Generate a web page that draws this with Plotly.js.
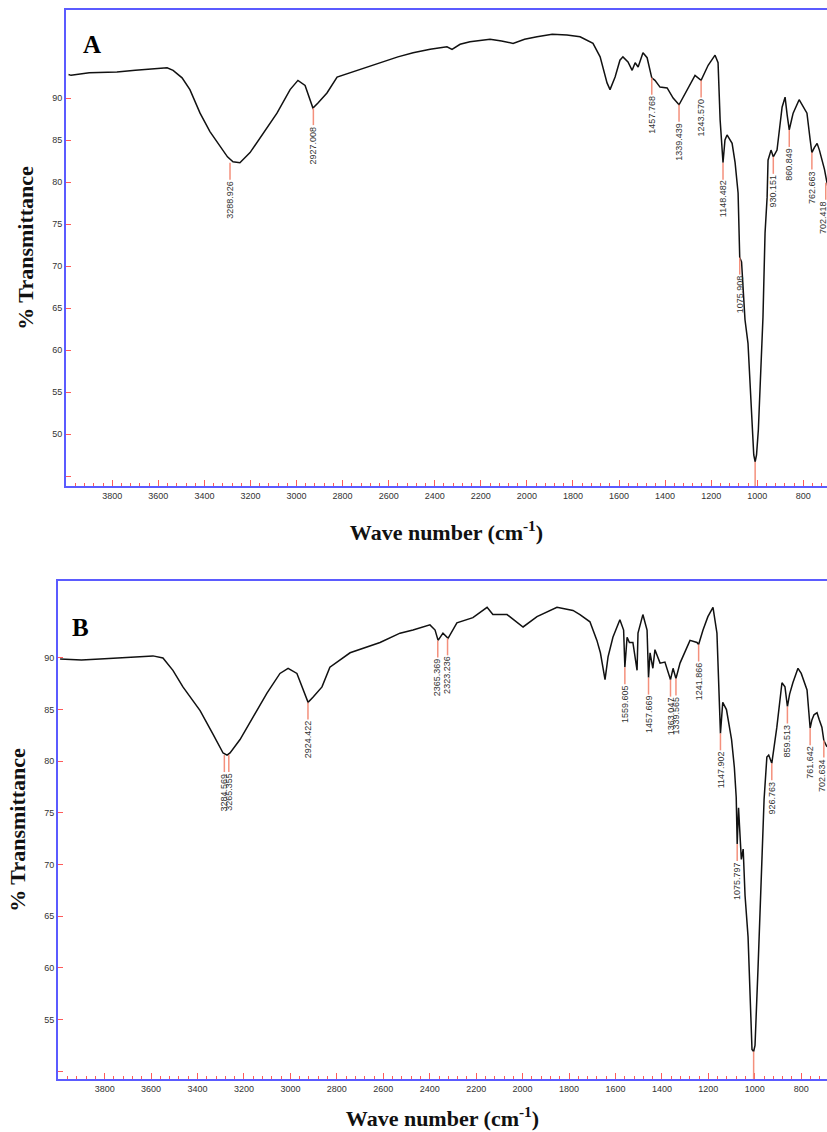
<!DOCTYPE html>
<html><head><meta charset="utf-8">
<script src="https://cdn.plot.ly/plotly-3.0.1.min.js"></script>
<style>html,body{margin:0;padding:0;background:#fff}#chart{width:827px;height:1132px}</style>
</head><body><div id="chart"></div>
<script>
// ---- Spectrum A ----
const wnA = [3990,3979,3900,3780,3700,3620,3562,3536,3497,3463,3419,3376,3332,3300,3276,3246,3202,3146,3085,3028,2994,2963,2929,2907,2868,2824,2737,2625,2560,2494,2420,2347,2325,2290,2247,2160,2110,2060,2010,1956,1890,1826,1769,1713,1682,1652,1639,1617,1596,1583,1561,1543,1530,1517,1496,1478,1457.8,1444,1422,1391,1365,1339.4,1305,1270,1243.6,1213,1183,1170,1161,1148.5,1140,1131,1109,1096,1083,1075.9,1068,1053,1040,1022,1015,1009,1003,995,987,975,966,957,953,940,930.2,914,892,879,870,860.8,850,844,818,800,784,770,762.7,752,740,730,718,708,697,690];
const tA = [92.8,92.7,93.0,93.1,93.3,93.5,93.6,93.3,92.4,91.0,88.2,86.0,84.2,83.0,82.4,82.3,83.5,85.8,88.2,91.0,92.1,91.5,88.8,89.4,90.6,92.5,93.3,94.3,94.9,95.4,95.8,96.1,95.8,96.4,96.7,97.0,96.8,96.5,97.0,97.3,97.6,97.5,97.3,96.5,94.9,91.8,91.0,92.5,94.5,94.9,94.3,93.3,94.2,93.7,95.4,94.8,92.4,92.1,91.3,91.2,90.0,89.2,91.0,92.7,92.1,93.9,95.1,94.2,87.4,82.3,85.0,85.6,84.6,82.3,78.7,71.0,70.5,63.6,60.8,52.0,47.5,46.7,47.5,50.5,56.4,63.9,73.9,78.2,82.6,83.8,83.0,83.8,88.9,90.1,88.0,86.2,87.5,88.2,89.8,89.0,88.2,85.0,83.5,84.1,84.6,83.8,82.6,81.5,79.9,79.0];
const peakWnA = [3288.926,2927.008,1457.768,1339.439,1243.570,1148.482,1075.908,930.151,860.849,762.663,702.418];
const peakTA = [82.3,88.8,92.4,89.2,92.1,82.3,71.0,83.0,86.2,83.5,79.9];
const peakLabelA = ["3288.926","2927.008","1457.768","1339.439","1243.570","1148.482","1075.908","930.151","860.849","762.663","702.418"];
const minWnA = 1009, minTA = 46.7;

// ---- Spectrum B ----
const wnB = [3992,3900,3820,3678,3592,3549,3506,3463,3389,3333,3290,3273,3260,3217,3161,3101,3045,3010,2972,2924,2903,2864,2830,2743,2614,2528,2472,2399,2377,2364,2343,2321,2283,2214,2153,2128,2067,2024,1998,1938,1852,1783,1753,1710,1680,1665,1654,1645,1632,1611,1581,1565,1559.6,1550,1540,1525,1507,1503,1482,1464,1457.7,1451,1439,1430,1408,1387,1363,1352,1339.6,1322,1279,1249,1241.9,1223,1202,1180,1163,1155,1147.9,1138,1122,1100,1088,1080,1075.8,1070,1064,1058,1050,1042,1029,1021,1012,1005,999,986,973,960,948,940,926.8,915,905,883,870,859.5,850,836,814,800,785,775,761.6,754,745,732,722,711,702.6,689];
const tB = [89.9,89.8,89.9,90.1,90.2,90.0,88.8,87.2,84.9,82.6,80.8,80.6,80.8,82.1,84.3,86.6,88.5,89.0,88.5,85.7,86.2,87.2,89.1,90.5,91.5,92.4,92.7,93.2,92.7,91.7,92.4,91.9,93.4,93.9,94.9,94.2,94.2,93.4,93.0,94.0,94.9,94.6,94.2,93.5,91.7,90.5,88.8,87.9,90.1,92.0,93.7,92.7,89.1,92.0,91.5,91.5,88.8,92.4,94.2,92.7,88.1,90.5,89.0,90.8,89.5,89.6,87.9,89.0,88.0,89.5,91.7,91.5,91.3,92.7,94.0,94.9,92.4,86.0,82.7,85.7,85.0,82.1,79.4,76.5,72.0,75.5,73.3,70.5,71.5,67.0,63.0,58.0,52.1,51.9,52.5,60.0,68.0,76.3,80.4,80.6,79.8,81.5,83.3,87.6,87.2,85.3,86.5,87.6,89.0,88.5,87.5,86.9,83.2,84.0,84.5,84.7,84.0,83.3,82.0,81.4];
const peakWnB = [3284.569,3265.355,2924.422,2365.369,2323.236,1559.605,1457.669,1363.047,1339.565,1241.866,1147.902,1075.797,926.763,859.513,761.642,702.634];
const peakTB = [80.6,80.6,85.7,91.7,91.9,89.1,88.1,87.9,88.0,91.3,82.7,72.0,79.8,85.3,83.2,82.0];
const peakLabelB = ["3284.569","3265.355","2924.422","2365.369","2323.236","1559.605","1457.669","1363.047","1339.565","1241.866","1147.902","1075.797","926.763","859.513","761.642","702.634"];
const minWnB = 1005, minTB = 51.9;

// ---- tick values ----
const xTickVals = [3800,3600,3400,3200,3000,2800,2600,2400,2200,2000,1800,1600,1400,1200,1000,800];
const yTickValsA = [50,55,60,65,70,75,80,85,90];
const yMinorA = [45];
const yTickValsB = [55,60,65,70,75,80,85,90];
const yMinorB = [50];

const W = 827, H = 1132;
const rangeXA = [4001, 697], rangeYA = [43.81, 100.48];
const rangeXB = [4001, 689], rangeYB = [49.24, 97.45];

const BLUE = '#5b5bff', RED = '#ff5a5a', PEAKRED = '#f4907c';
const serif = 'Liberation Serif, Times New Roman, serif';
const sans = 'Liberation Sans, Arial, sans-serif';
const LINE_LEN = 17;

function xaxisDef(domain, range, anchor, standoff) {
  return {
    domain: domain, range: range, anchor: anchor,
    tickmode: 'array', tickvals: xTickVals,
    ticks: 'inside', ticklen: 6, tickwidth: 1, tickcolor: RED,
    minor: {tickmode: 'linear', tick0: 800, dtick: 40, ticks: 'inside', ticklen: 3, tickwidth: 1, tickcolor: RED, showgrid: false},
    showline: true, linecolor: BLUE, linewidth: 2, mirror: true,
    showgrid: false, zeroline: false,
    tickfont: {family: sans, size: 9, color: '#333'},
    title: {text: 'Wave number (cm<sup>-1</sup>)', font: {family: serif, size: 22, weight: 'bold', color: '#111'}, standoff: standoff},
    automargin: false
  };
}
function yaxisDef(domain, range, anchor, vals, minorVals) {
  return {
    domain: domain, range: range, anchor: anchor,
    tickmode: 'array', tickvals: vals,
    ticks: 'inside', ticklen: 5, tickwidth: 1, tickcolor: RED,
    minor: {tickmode: 'array', tickvals: minorVals, ticks: 'inside', ticklen: 5, tickwidth: 1, tickcolor: RED, showgrid: false},
    showline: true, linecolor: BLUE, linewidth: 2, mirror: false,
    showgrid: false, zeroline: false,
    tickfont: {family: sans, size: 9, color: '#333'},
    title: {text: '% Transmittance', font: {family: serif, size: 22, weight: 'bold', color: '#111'}, standoff: 12},
    automargin: false
  };
}

function peakMarks(wn, t, labels, xr, yr, xmin) {
  const shapes = [], anns = [];
  wn.forEach((w, i) => {
    shapes.push({type: 'line', xref: xr, yref: yr, x0: w, x1: w, ysizemode: 'pixel', yanchor: t[i], y0: 0, y1: -LINE_LEN, line: {color: PEAKRED, width: 1.5}});
    const nearEdge = w < xmin + 25;
    anns.push({xref: xr, yref: yr, x: w, y: t[i], text: labels[i], showarrow: false, textangle: -90,
      xanchor: nearEdge ? 'right' : 'center', xshift: nearEdge ? 4 : 0, yanchor: 'top', yshift: -LINE_LEN, borderpad: 0,
      font: {family: sans, size: 9, color: '#333'}});
  });
  return {shapes, anns};
}

const pA = peakMarks(peakWnA, peakTA, peakLabelA, 'x', 'y', rangeXA[1]);
const pB = peakMarks(peakWnB, peakTB, peakLabelB, 'x2', 'y2', rangeXB[1]);
const minShapes = [
  {type: 'line', xref: 'x', yref: 'y', x0: minWnA, x1: minWnA, y0: minTA, y1: rangeYA[0], line: {color: PEAKRED, width: 1.5}},
  {type: 'line', xref: 'x2', yref: 'y2', x0: minWnB, x1: minWnB, y0: minTB, y1: rangeYB[0], line: {color: PEAKRED, width: 1.5}}
];

const data = [
  {x: wnA, y: tA, type: 'scatter', mode: 'lines', line: {color: '#111', width: 1.5}, xaxis: 'x', yaxis: 'y', hoverinfo: 'skip'},
  {x: wnB, y: tB, type: 'scatter', mode: 'lines', line: {color: '#111', width: 1.5}, xaxis: 'x2', yaxis: 'y2', hoverinfo: 'skip'}
];

const layout = {
  width: W, height: H,
  margin: {l: 0, r: 0, t: 0, b: 0, pad: 0},
  paper_bgcolor: '#fff', plot_bgcolor: '#fff',
  showlegend: false,
  xaxis: xaxisDef([66 / W, 1], rangeXA, 'y', 25),
  yaxis: yaxisDef([1 - 486 / H, 1 - 10 / H], rangeYA, 'x', yTickValsA, yMinorA),
  xaxis2: xaxisDef([58 / W, 1], rangeXB, 'y2', 18),
  yaxis2: yaxisDef([1 - 1079 / H, 1 - 581 / H], rangeYB, 'x2', yTickValsB, yMinorB),
  shapes: pA.shapes.concat(pB.shapes, minShapes),
  annotations: pA.anns.concat(pB.anns, [
    {xref: 'paper', yref: 'paper', x: 92 / W, y: 1 - 45 / H, text: 'A', showarrow: false, xanchor: 'center', yanchor: 'middle', font: {family: serif, size: 25, weight: 'bold', color: '#000'}},
    {xref: 'paper', yref: 'paper', x: 80 / W, y: 1 - 628 / H, text: 'B', showarrow: false, xanchor: 'center', yanchor: 'middle', font: {family: serif, size: 25, weight: 'bold', color: '#000'}}
  ])
};

Plotly.newPlot('chart', data, layout, {staticPlot: true, displayModeBar: false});
</script>
</body></html>
